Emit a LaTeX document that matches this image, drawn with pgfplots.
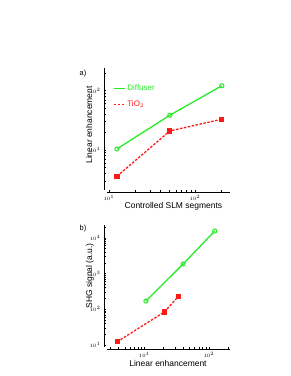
\documentclass[border=0pt]{standalone}
\usepackage{pgfplots}
\pgfplotsset{compat=1.18}
\usepackage{fontspec}
\setmainfont{Liberation Sans}
\definecolor{mygreen}{RGB}{40,235,40}
\definecolor{myred}{RGB}{255,25,25}
\tikzset{
  dif/.style={color=mygreen, line width=1.3bp, mark=o, mark size=2.1bp, mark options={solid, line width=1bp}},
  tio/.style={color=myred, line width=1.3bp, dash pattern=on 2.5bp off 1.5bp, mark=square*, mark size=1.9bp, mark options={solid}},
}
\begin{document}
\begin{tikzpicture}
\useasboundingbox (0,0) rectangle (291bp,376bp);
\begin{axis}[
  scale only axis, width=123bp, height=122bp,
  xmode=log, ymode=log,
  axis lines=left,
  axis line style={-, line width=0.8bp},
  axis y line shift=3bp, axis x line shift=2bp,
  tick align=inside,
  major tick length=2.4bp, minor tick length=1.6bp,
  tick style={line width=0.6bp, black},
  minor tick style={line width=0.6bp, black},
  ticklabel style={font=\fontsize{4}{4}\selectfont},
  label style={font=\fontsize{8.5}{9}\selectfont},
  at={(107bp,186bp)}, anchor=south west,
  xmin=9.5, xmax=255, ymin=2.11, ymax=241,
  xtick={10,100}, ytick={10,100},
  minor xtick={20,30,40,50,60,70,80,90,200},
  minor ytick={3,4,5,6,7,8,9,20,30,40,50,60,70,80,90,200},
  xlabel={Controlled SLM segments},
  xlabel style={at={(axis description cs:0.54,-0.13)}, anchor=center},
  legend cell align=left,
  legend image code/.code={\draw[#1] (0bp,0bp) -- (11bp,0bp);},
  legend style={at={(axis description cs:0.04,0.89)}, anchor=north west, draw=none, fill=none,
    font=\fontsize{8}{9}\selectfont, row sep=5bp, inner sep=1bp},
]
\addplot[dif] coordinates {(12.4,10.4) (51,38.5) (205,121)};
\addlegendentry{\textcolor{mygreen}{Diffuser}}
\addplot[tio] coordinates {(12.4,3.6) (51,20.9) (205,33)};
\addlegendentry{\textcolor{myred}{TiO$_2$}}
\end{axis}
\node[font=\fontsize{7.5}{8}\selectfont] at (83bp,302bp) {a)};
\node[font=\fontsize{8.5}{9}\selectfont, rotate=90] at (89bp,251bp) {Linear enhancement};
\begin{axis}[
  scale only axis, width=123bp, height=122bp,
  xmode=log, ymode=log,
  axis lines=left,
  axis line style={-, line width=0.8bp},
  axis y line shift=3bp, axis x line shift=2bp,
  tick align=inside,
  major tick length=2.4bp, minor tick length=1.6bp,
  tick style={line width=0.6bp, black},
  minor tick style={line width=0.6bp, black},
  ticklabel style={font=\fontsize{4}{4}\selectfont},
  label style={font=\fontsize{8.5}{9}\selectfont},
  at={(107bp,29bp)}, anchor=south west,
  xmin=2.65, xmax=212, ymin=8.8, ymax=22900,
  xtick={10,100}, ytick={10,100,1000,10000},
  minor xtick={3,4,5,6,7,8,9,20,30,40,50,60,70,80,90,200},
  minor ytick={20,30,40,50,60,70,80,90,200,300,400,500,600,700,800,900,2000,3000,4000,5000,6000,7000,8000,9000,20000},
  xlabel={Linear enhancement},
  xlabel style={at={(axis description cs:0.496,-0.138)}, anchor=center},
]
\addplot[dif] coordinates {(10.6,170) (40,1860) (123,15500)};
\addplot[tio] coordinates {(3.8,12.3) (20.4,84) (34,234)};
\end{axis}
\node[font=\fontsize{7.5}{8}\selectfont] at (83bp,147bp) {b)};
\node[font=\fontsize{8.5}{9}\selectfont, rotate=90] at (90bp,100bp) {SHG signal (a.u.)};
\end{tikzpicture}
\end{document}
